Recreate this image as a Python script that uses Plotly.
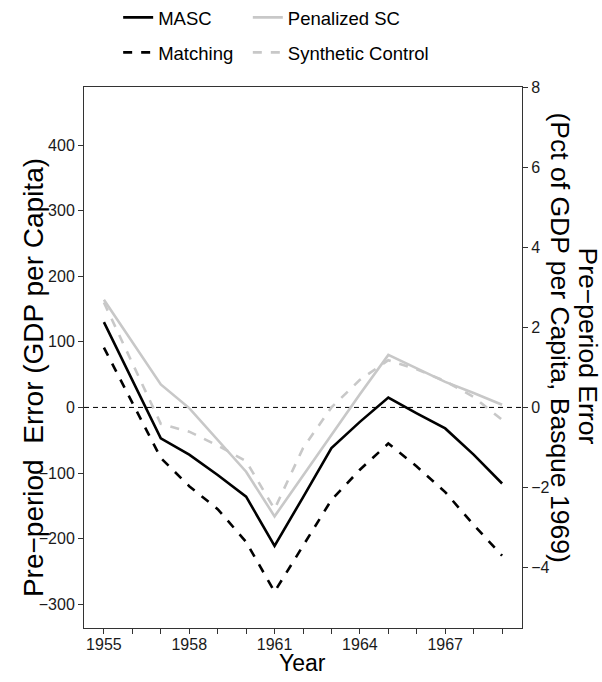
import plotly.graph_objects as go

# ---- data ----
years = list(range(1955, 1970))
masc = [130, 42, -47, -72, -103, -136, -211, -137, -62, -22, 15, -9, -32, -72, -116]
matching = [91, 7, -77, -120, -155, -205, -281, -211, -141, -95, -55, -90, -129, -179, -226]
penalized_sc = [164, 100, 35, -1, -50, -98, -166, -104, -42, 20, 80, 59, 39, 22, 4]
synthetic_control = [160, 67, -25, -37, -58, -82, -155, -62, 0, 42, 72, 58, 40, 16, -19]

x_tick_vals = years
x_tick_text = [str(y) if (y - 1955) % 3 == 0 else "" for y in years]
left_ticks = [-300, -200, -100, 0, 100, 200, 300, 400]
right_ticks = [-4, -2, 0, 2, 4, 6, 8]
gdp_per_pct = 61.05  # GDP per capita units per 1 pct of Basque 1969 GDP

left_range = [-336.2, 488.4]
right_range = [v / gdp_per_pct for v in left_range]

FONT = "Liberation Sans, Arial, sans-serif"
GRAY = "#C8C8C8"

fig = go.Figure()
fig.add_trace(go.Scatter(x=years, y=masc, mode="lines", name="MASC",
                         line=dict(color="black", width=2.6),
                         legend="legend", legendgroup="a"))
fig.add_trace(go.Scatter(x=years, y=matching, mode="lines", name="Matching",
                         line=dict(color="black", width=2.6, dash="9px,9px"),
                         legend="legend", legendgroup="b"))
fig.add_trace(go.Scatter(x=years, y=penalized_sc, mode="lines", name="Penalized SC",
                         line=dict(color=GRAY, width=2.6),
                         legend="legend2", legendgroup="c"))
fig.add_trace(go.Scatter(x=years, y=synthetic_control, mode="lines", name="Synthetic Control",
                         line=dict(color=GRAY, width=2.6, dash="9px,9px"),
                         legend="legend2", legendgroup="d"))
# carrier for the secondary axis
fig.add_trace(go.Scatter(x=[None], y=[None], yaxis="y2", showlegend=False, hoverinfo="skip"))

fig.add_shape(type="line", xref="paper", x0=0, x1=1, yref="y", y0=0, y1=0,
              line=dict(color="black", width=1, dash="5px,4px"), layer="below")

axis_common = dict(showgrid=False, zeroline=False, showline=True, linecolor="#333333",
                   linewidth=1, ticks="outside", ticklen=5, tickcolor="#333333",
                   tickfont=dict(family=FONT, size=16, color="#1a1a1a"))

leg_common = dict(font=dict(family=FONT, size=18.5, color="black"), bgcolor="rgba(0,0,0,0)",
                  orientation="v", yanchor="top", xanchor="left", tracegroupgap=8,
                  itemwidth=30)

title_font = dict(family=FONT, size=28, color="black")
right_font = dict(family=FONT, size=26.5, color="black")

fig.update_layout(
    width=602, height=682,
    margin=dict(l=84, r=80, t=87, b=54, autoexpand=False),
    plot_bgcolor="white", paper_bgcolor="white",
    font=dict(family=FONT),
    xaxis=dict(range=[1954.3, 1969.7], tickvals=x_tick_vals, ticktext=x_tick_text,
               mirror=True, ticklabelstandoff=-3, **axis_common),
    yaxis=dict(range=left_range, tickvals=left_ticks, mirror=True, **axis_common),
    yaxis2=dict(range=right_range, tickvals=right_ticks, overlaying="y", side="right",
                anchor="x", **axis_common),
    legend=dict(x=0.078, y=1.163, **leg_common),
    legend2=dict(x=0.374, y=1.163, **leg_common),
    annotations=[
        dict(text="Year", xref="paper", yref="paper", x=0.498, y=-0.065,
             xanchor="center", yanchor="middle", showarrow=False,
             font=dict(family=FONT, size=23, color="black")),
        dict(text="Pre\u2212period  Error (GDP per Capita)", xref="paper", yref="paper",
             x=-0.1164, y=0.462, xanchor="center", yanchor="middle", textangle=-90,
             showarrow=False, font=title_font),
        dict(text="Pre\u2212period Error", xref="paper", yref="paper",
             x=(588 - 84) / 438, y=0.522, xanchor="center", yanchor="middle",
             textangle=90, showarrow=False, font=right_font),
        dict(text="(Pct of GDP per Capita, Basque 1969)", xref="paper", yref="paper",
             x=(560 - 84) / 438, y=0.537, xanchor="center", yanchor="middle",
             textangle=90, showarrow=False, font=right_font),
    ],
)

fig.write_html("out.html")
